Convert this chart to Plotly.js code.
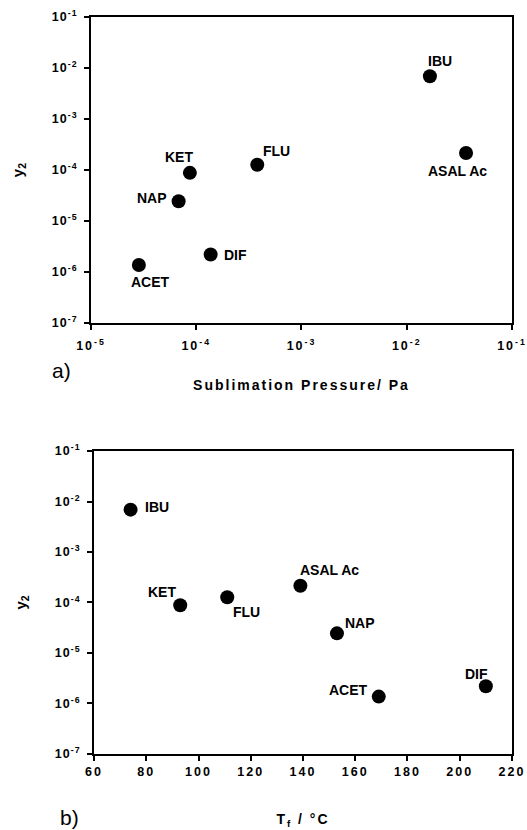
<!DOCTYPE html>
<html><head><meta charset="utf-8">
<script src="https://cdn.plot.ly/plotly-3.0.1.min.js"></script>
<style>
html,body{margin:0;padding:0;background:#fff;}
.xtitle,.x2title{letter-spacing:2px;}
.xtick text,.x2tick text{letter-spacing:2px;}
.ytick text,.y2tick text{letter-spacing:1px;}
</style>
</head><body>
<div id="chart" style="width:527px;height:830px;"></div>
<script>
// Data
const drugs = ["IBU", "ASAL Ac", "FLU", "KET", "NAP", "DIF", "ACET"];
const sublimationPressure = [0.0166, 0.0366, 3.8e-4, 8.7e-5, 6.8e-5, 1.37e-4, 2.85e-5]; // Pa
const meltingTemp = [74, 139, 111, 93, 153, 210, 169]; // Tf / °C
const y2 = [0.0069, 2.15e-4, 1.27e-4, 8.8e-5, 2.45e-5, 2.2e-6, 1.37e-6];

const logTickVals = [1e-7, 1e-6, 1e-5, 1e-4, 1e-3, 1e-2, 1e-1];
const logTickText = ["10<sup>-7</sup>", "10<sup>-6</sup>", "10<sup>-5</sup>", "10<sup>-4</sup>", "10<sup>-3</sup>", "10<sup>-2</sup>", "10<sup>-1</sup>"];
const pTickVals = [1e-5, 1e-4, 1e-3, 1e-2, 1e-1];
const pTickText = ["10<sup>-5</sup>", "10<sup>-4</sup>", "10<sup>-3</sup>", "10<sup>-2</sup>", "10<sup>-1</sup>"];
const tTickVals = [60, 80, 100, 120, 140, 160, 180, 200, 220];

// Label offsets (pixels, styling only) for each drug label in panel a) and b)
const labelShiftA = [[10, -15], [-9, 18], [19, -14], [-11, -16], [-27, -3], [25, 0], [12, 17]];
const labelShiftB = [[26, -3], [29, -16], [19, 15], [-18, -13], [23, -10], [-9, -12], [-30, -7]];

const FONT = "Liberation Sans, Arial, sans-serif";
const markerStyle = {size: 14, color: "#000"};
const labelFont = {family: FONT, size: 14, color: "#000", weight: "bold"};

const traces = [
  {x: sublimationPressure, y: y2, mode: "markers", type: "scatter", marker: markerStyle, xaxis: "x", yaxis: "y", cliponaxis: false},
  {x: meltingTemp, y: y2, mode: "markers", type: "scatter", marker: markerStyle, xaxis: "x2", yaxis: "y2", cliponaxis: false}
];

const annotations = [];
drugs.forEach((d, i) => {
  annotations.push({text: d, xref: "x", yref: "y", x: Math.log10(sublimationPressure[i]), y: Math.log10(y2[i]),
    xshift: labelShiftA[i][0], yshift: -labelShiftA[i][1], showarrow: false, xanchor: "center", yanchor: "middle", font: labelFont});
  annotations.push({text: d, xref: "x2", yref: "y2", x: meltingTemp[i], y: Math.log10(y2[i]),
    xshift: labelShiftB[i][0], yshift: -labelShiftB[i][1], showarrow: false, xanchor: "center", yanchor: "middle", font: labelFont});
});
annotations.push({text: "a)", xref: "paper", yref: "paper", x: 50/527, y: 1 - 370/830, xanchor: "left", yanchor: "middle",
  showarrow: false, font: {family: FONT, size: 21, color: "#000"}});
annotations.push({text: "b)", xref: "paper", yref: "paper", x: 58/527, y: 1 - 817/830, xanchor: "left", yanchor: "middle",
  showarrow: false, font: {family: FONT, size: 21, color: "#000"}});

const tickFont = {family: FONT, size: 12.5, color: "#000", weight: "bold"};
const axisCommon = {showline: true, linecolor: "#000", linewidth: 2, mirror: true,
  ticks: "outside", ticklen: 5, tickwidth: 2, tickcolor: "#000", showgrid: false, zeroline: false,
  tickfont: tickFont};

const layout = {
  width: 527, height: 830,
  margin: {l: 0, r: 0, t: 0, b: 0},
  paper_bgcolor: "#fff", plot_bgcolor: "#fff",
  showlegend: false,
  font: {family: FONT, color: "#000"},
  xaxis: Object.assign({}, axisCommon, {type: "log", range: [-5, -1], domain: [0.1727, 0.9715], anchor: "y",
    tickmode: "array", tickvals: pTickVals, ticktext: pTickText, ticklabelstandoff: 5,
    title: {text: "Sublimation Pressure/ Pa", font: {family: FONT, size: 14, weight: "bold"}, standoff: 28}}),
  yaxis: Object.assign({}, axisCommon, {type: "log", range: [-7, -1], domain: [0.6108, 0.9795], anchor: "x",
    tickmode: "array", tickvals: logTickVals, ticktext: logTickText, ticklabelstandoff: 4,
    title: {text: "y<sub>2</sub>", font: {family: FONT, size: 15, weight: "bold"}, standoff: 25}}),
  xaxis2: Object.assign({}, axisCommon, {range: [60, 220], domain: [0.1784, 0.9715], anchor: "y2",
    tickmode: "array", tickvals: tTickVals, ticklabelstandoff: 0,
    title: {text: "T<sub>f</sub> / °C", font: {family: FONT, size: 14, weight: "bold"}, standoff: 36}}),
  yaxis2: Object.assign({}, axisCommon, {type: "log", range: [-7, -1], domain: [0.0916, 0.4566], anchor: "x2",
    tickmode: "array", tickvals: logTickVals, ticktext: logTickText, ticklabelstandoff: 4,
    title: {text: "y<sub>2</sub>", font: {family: FONT, size: 15, weight: "bold"}, standoff: 25}}),
  annotations: annotations
};

Plotly.newPlot("chart", traces, layout, {displayModeBar: false, staticPlot: true});
</script>
</body></html>
